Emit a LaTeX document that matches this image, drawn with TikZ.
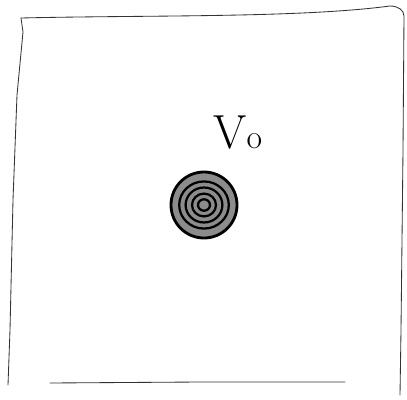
\documentclass[tikz,border=0pt]{standalone}
\usetikzlibrary{positioning}
\tikzset{
  every picture/.style={line width=0.6pt},
  sketch/.style={draw=black!80, line cap=round, line join=round},
  ring/.style={draw=black, line width=1.6pt},
  label/.style={font=\fontsize{34}{34}\selectfont, inner sep=0pt},
}
\begin{document}
\begin{tikzpicture}[x=0.025cm, y=-0.025cm]
  \useasboundingbox (0,0) rectangle (407,400);

  % the box
  \coordinate (tl) at (21,18);
  \coordinate (tr) at (404,16);
  \coordinate (br) at (400,395);
  \coordinate (bl) at (8,385);
  \draw[sketch] (tl) .. controls (150,15) and (300,18) .. (390,6)
    .. controls (398,6) and (404,10) .. (tr) -- (403,150) -- (401,330) -- (br);
  \draw[sketch] (tl) -- (23,32) -- (17,95) -- (13,200) -- (10,330) -- (bl);
  \draw[sketch] (50,383) -- (200,382) -- (345,382);

  % the particle
  \node[circle, fill=black!45, draw=black, line width=2pt, inner sep=0pt,
        minimum width=1.65cm] (ball) at (204,205) {};
  \foreach \r in {0.62, 0.46, 0.30, 0.15}
    \draw[ring] (ball.center) circle[x radius=\r cm, y radius=\r cm*0.95];

  % the label
  \node[label, anchor=south west] (v0) at (213,150) {V\fontsize{24}{24}\selectfont o};
\end{tikzpicture}
\end{document}
